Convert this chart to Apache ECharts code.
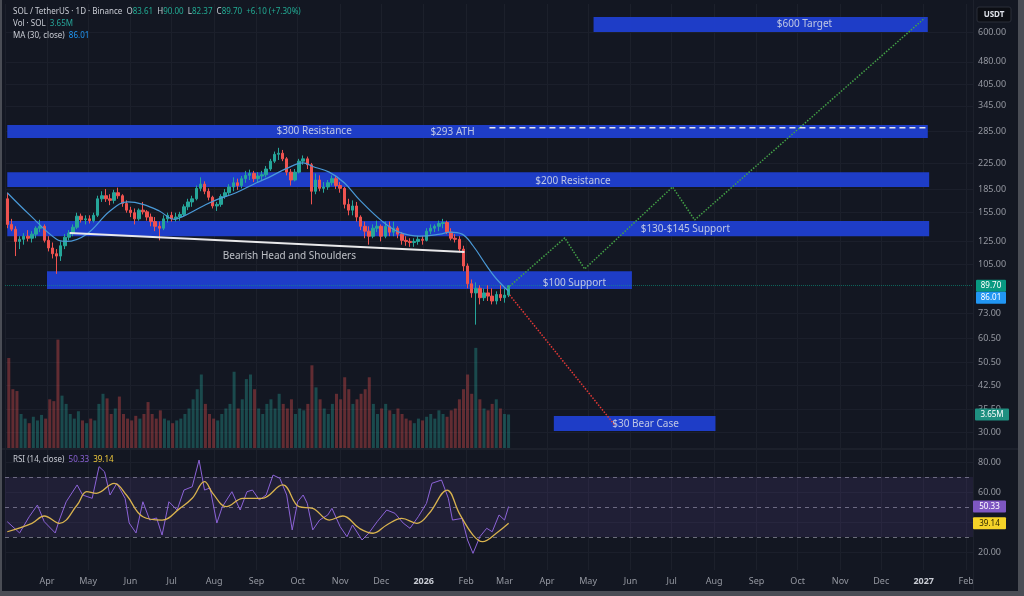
<!DOCTYPE html>
<html>
<head>
<meta charset="utf-8">
<script src="https://cdn.jsdelivr.net/npm/echarts@6/dist/echarts.min.js"></script>
<style>
html, body { margin: 0; padding: 0; background: #131722; }
#chart { width: 1024px; height: 596px; }
</style>
</head>
<body>
<div id="chart"></div>
<script>
const FONT = '"Noto Sans", Roboto, sans-serif'
const DAY = 86400000
const T0 = +new Date(2025, 2, 1)
const day = n => T0 + n * DAY

// 3-day candles from day 2 (Mar 3 2025); [open, high, low, close]
const candleStart = 2
const candleStep = 3
const ohlc = [
  [172, 180, 138, 142], [142, 148, 135, 137], [137, 140, 112, 125], [125, 130, 118, 127],
  [127, 133, 122, 130], [130, 136, 125, 128], [128, 135, 124, 132], [132, 140, 128, 138],
  [138, 147, 134, 140], [140, 142, 124, 126], [126, 130, 116, 119], [119, 124, 110, 114],
  [114, 118, 98, 112], [112, 125, 108, 121], [121, 132, 118, 129], [129, 136, 126, 133],
  [133, 142, 130, 139], [139, 155, 137, 151], [151, 154, 144, 147], [147, 152, 142, 148],
  [148, 152, 143, 146], [146, 155, 144, 152], [152, 176, 150, 172], [172, 182, 168, 176],
  [176, 185, 168, 172], [172, 178, 164, 170], [170, 184, 166, 180], [180, 187, 172, 176],
  [176, 178, 162, 166], [166, 170, 155, 158], [158, 162, 150, 155], [155, 160, 142, 148],
  [148, 160, 146, 158], [158, 168, 153, 156], [156, 158, 146, 150], [150, 154, 140, 145],
  [145, 150, 135, 140], [140, 145, 126, 138], [138, 152, 136, 148], [148, 155, 144, 152],
  [152, 156, 145, 148], [148, 155, 145, 150], [150, 156, 146, 153], [153, 165, 151, 162],
  [162, 172, 158, 168], [168, 176, 162, 172], [172, 190, 170, 186], [186, 202, 182, 192],
  [192, 196, 178, 182], [182, 186, 170, 174], [174, 176, 160, 163], [163, 168, 157, 165],
  [165, 178, 162, 175], [175, 185, 172, 180], [180, 192, 176, 188], [188, 202, 182, 194],
  [194, 200, 184, 190], [190, 204, 186, 200], [200, 212, 194, 205], [205, 214, 198, 208],
  [208, 212, 195, 200], [200, 210, 194, 204], [204, 212, 198, 206], [206, 220, 202, 215],
  [215, 232, 212, 228], [228, 245, 225, 240], [240, 252, 230, 242], [242, 248, 228, 232],
  [232, 235, 205, 210], [210, 215, 190, 198], [198, 215, 196, 210], [210, 232, 208, 228],
  [228, 238, 222, 232], [232, 236, 215, 222], [222, 225, 165, 182], [182, 208, 178, 198],
  [198, 205, 182, 186], [186, 195, 180, 188], [188, 198, 184, 194], [194, 205, 190, 200],
  [200, 204, 185, 190], [190, 195, 180, 186], [186, 188, 160, 165], [165, 172, 152, 158],
  [158, 170, 152, 163], [163, 168, 145, 150], [150, 152, 136, 140], [140, 145, 128, 135],
  [135, 140, 122, 130], [130, 142, 128, 138], [138, 146, 134, 140], [140, 142, 125, 130],
  [130, 145, 128, 140], [140, 145, 130, 134], [134, 145, 130, 138], [138, 140, 128, 132],
  [132, 134, 122, 126], [126, 130, 121, 125], [125, 128, 120, 124], [124, 128, 120, 125],
  [125, 130, 122, 127], [127, 130, 122, 126], [126, 138, 125, 135], [135, 142, 132, 138],
  [138, 142, 134, 140], [140, 146, 135, 143], [143, 148, 138, 144], [144, 146, 132, 134],
  [134, 138, 126, 128], [128, 132, 124, 127], [127, 130, 115, 118], [118, 121, 100, 104],
  [104, 106, 88, 91], [91, 94, 82, 85], [85, 92, 67, 88], [88, 90, 78, 82],
  [82, 88, 80, 85], [85, 90, 80, 83], [83, 88, 78, 80], [80, 86, 78, 84],
  [84, 90, 80, 82], [82, 88, 79, 83.61], [83.61, 90, 82.37, 89.70]
]

// volume per candle, millions
const volume = [
  9.8, 6.4, 6.2, 3.7, 3.2, 2.7, 3.4, 3.0, 3.6, 3.2, 5.3, 5.1, 11.8, 5.7, 4.8, 3.7,
  3.2, 4.0, 3.0, 2.7, 3.2, 3.0, 4.8, 5.9, 5.4, 3.7, 4.3, 5.6, 3.7, 3.2, 3.0, 3.5,
  3.2, 3.7, 5.0, 3.7, 3.2, 4.1, 3.2, 3.0, 2.7, 3.0, 3.2, 3.7, 4.3, 5.3, 6.4, 8.0,
  4.8, 3.7, 3.2, 3.0, 3.7, 4.3, 4.8, 8.3, 4.3, 5.3, 7.5, 8.0, 6.4, 4.3, 3.7, 4.8,
  5.3, 4.3, 5.9, 4.8, 4.3, 5.3, 3.7, 4.3, 4.1, 4.8, 9.0, 6.6, 5.3, 4.3, 3.7, 4.8,
  5.9, 5.3, 7.7, 6.4, 4.8, 5.3, 5.9, 6.4, 7.7, 4.8, 3.7, 4.3, 4.8, 4.1, 3.7, 4.3,
  3.7, 3.2, 3.0, 2.7, 3.2, 3.0, 3.4, 3.7, 3.2, 4.1, 3.7, 3.4, 4.1, 4.3, 5.3, 6.4,
  8.0, 5.9, 10.9, 5.3, 4.3, 4.1, 4.8, 5.3, 4.3, 3.7, 3.65
]

// MA(30), day offsets from Mar 1 2025
const maDays = [2, 18, 38, 45, 60, 77, 90, 101, 113, 124, 130, 145, 155, 169, 184, 193,
  206, 218, 225, 237, 248, 259, 276, 288, 303, 318, 325, 334, 342, 352, 359, 368]
const ma30 = [180, 153, 127, 125, 132, 157, 168, 165, 157, 147.5, 150.5, 163, 171, 180, 194, 202,
  216, 225, 219, 210, 194, 171, 145, 134, 130, 132, 134, 132, 121, 104, 94.5, 86.01]

const rsiDays = [2, 11, 18, 24, 29, 37, 40, 45, 53, 57, 64, 69, 73, 77, 82, 88, 91, 96, 101,
  106, 111, 115, 120, 126, 131, 137, 142, 146, 150, 155, 159, 166, 172, 177, 181, 186, 191,
  196, 201, 206, 210, 214, 218, 221, 225, 230, 236, 239, 245, 250, 254, 261, 266, 272, 279,
  285, 291, 296, 302, 308, 312, 319, 324, 327, 334, 338, 342, 347, 352, 356, 361, 365, 368]
const rsi = [40.2, 32.7, 43.5, 51.3, 40.2, 32.7, 41.3, 53.5, 64.7, 58, 55.8, 76.9, 73.5, 58,
  65.8, 55.8, 39.3, 32.7, 53.5, 41.3, 42.7, 31.3, 53.5, 48, 61.3, 63.5, 81.3, 61.3, 62.7, 39.3,
  50.2, 60.2, 48, 60.2, 61.3, 54.7, 58, 71.3, 69.1, 58, 34.7, 53.5, 58, 52.4, 34.7, 41.3, 44.7,
  49.1, 36.9, 30.2, 38, 28, 32.7, 40.2, 48, 45.8, 39.3, 35.8, 43.5, 52.4, 65.8, 68, 55.8, 41.3,
  42.4, 28, 19.1, 30.2, 35.8, 33.5, 44.7, 41.3, 50.33]

const rsiMaDays = [2, 20, 29, 40, 53, 60, 67, 80, 89, 101, 115, 128, 137, 146, 152, 162, 174,
  188, 203, 215, 225, 237, 247, 259, 269, 279, 290, 301, 310, 323, 332, 342, 349, 359, 368]
const rsiMa = [33.5, 39.1, 44, 39.1, 51.3, 60.2, 59.1, 65.8, 58, 43.5, 41.3, 49.1, 55.8, 66.9,
  59.1, 50.2, 55.8, 55.8, 64.7, 50.2, 49.1, 41.3, 44, 35.8, 32.5, 38, 42.4, 39.1, 45.8, 61.3,
  45.8, 31.3, 26.9, 32.5, 39.14]

const priceTicks = [30, 35.5, 42.5, 50.5, 60.5, 73, 105, 125, 155, 185, 225, 285, 345, 405, 480, 600]
const rsiTicks = [20, 40, 60, 80]
const rsiLevels = [30, 50, 70]

// [fromDay, toDay, low, high]
const zones = [
  [430, 674, 600, 671],
  [2, 674, 271, 299],
  [2, 675, 188, 210],
  [2, 675, 130, 145.6],
  [31, 458, 87.5, 100],
  [401, 519, 30.2, 33.8]
]
// [day, price, text]
const notes = [
  [584, 637, '$600 Target'],
  [226, 286, '$300 Resistance'],
  [327, 283, '$293 ATH'],
  [415, 196.6, '$200 Resistance'],
  [497, 137, '$130-$145 Support'],
  [416, 91.6, '$100 Support'],
  [468, 31.8, '$30 Bear Case'],
  [208, 112, 'Bearish Head and Shoulders']
]
const bullPath = [[367, 88], [409, 128.3], [423.5, 101.7], [487.7, 188], [503.8, 146.8], [671.7, 666]]
const bearPath = [[368.7, 83.7], [445.4, 31.6]]
const neckline = [[47.5, 133.1], [335.8, 115.5]]
const athLine = [[354, 293], [674, 293]]

const lastClose = 89.70
const lastMa = 86.01
const lastVol = 3.65
const lastRsi = 50.33
const lastRsiMa = 39.14

const UP = '#26a69a'
const DOWN = '#ef5350'
const xMin = day(0.34)
const xMax = day(707)

const candleData = ohlc.map((c, i) => [day(candleStart + i * candleStep), c[0], c[3], c[2], c[1]])
const volData = volume.map((v, i) => ({
  value: [day(candleStart + i * candleStep), v],
  itemStyle: { color: ohlc[i][3] >= ohlc[i][0] ? 'rgba(38,166,154,0.36)' : 'rgba(239,83,80,0.36)' }
}))
const pairs = (days, vals) => days.map((d, i) => [day(d), vals[i]])
const pts = arr => arr.map(p => [day(p[0]), p[1]])

const chart = echarts.init(document.getElementById('chart'))

const axisText = { color: '#9598a1', fontSize: 9, fontFamily: FONT }

chart.setOption({
  backgroundColor: '#131722',
  animation: false,
  textStyle: { fontFamily: FONT },
  grid: [
    { left: 5, right: 51, top: 4, height: 444 },
    { left: 5, right: 51, top: 301, height: 147 },
    { left: 5, right: 51, top: 450, height: 120 }
  ],
  xAxis: [0, 1, 2].map(i => ({
    type: 'time',
    gridIndex: i,
    min: xMin,
    max: xMax,
    splitNumber: 24,
    minInterval: 28 * DAY,
    maxInterval: 31 * DAY,
    axisLine: { show: false },
    axisTick: { show: false },
    splitLine: { show: i !== 1, lineStyle: { color: '#1c202b', width: 1 } },
    axisLabel: i === 2 ? {
      ...axisText,
      margin: 7,
      formatter: { year: '{yr|{yyyy}}', month: '{MMM}' },
      rich: { yr: { fontWeight: 'bold', color: '#c9ccd4', fontSize: 9 } }
    } : { show: false }
  })),
  yAxis: [
    { type: 'log', logBase: 10, gridIndex: 0, min: 26.6, max: 740, position: 'right',
      axisLine: { show: false }, axisTick: { show: false }, axisLabel: { show: false }, splitLine: { show: false } },
    { type: 'value', gridIndex: 1, min: 0, max: 16, show: false },
    { type: 'value', gridIndex: 2, min: 8, max: 88, position: 'right',
      axisLine: { show: false }, axisTick: { show: false }, axisLabel: { show: false }, splitLine: { show: false } }
  ],
  series: [
    {
      // price scale grid lines and labels
      type: 'line', xAxisIndex: 0, yAxisIndex: 0, z: 0, silent: true,
      data: pts(athLine), lineStyle: { opacity: 0 }, showSymbol: false,
      markLine: {
        z: 0, silent: true, symbol: ['none', 'none'],
        lineStyle: { color: '#1b1f2b', type: 'solid', width: 1 },
        label: { show: true, position: 'end', distance: 5, formatter: p => p.value.toFixed(2), ...axisText },
        data: priceTicks.map(v => ({ yAxis: v }))
      }
    },
    {
      type: 'line', xAxisIndex: 0, yAxisIndex: 0, z: 1, silent: true,
      data: pts(athLine), lineStyle: { opacity: 0 }, showSymbol: false,
      markArea: {
        z: 1, silent: true,
        itemStyle: { color: '#1f3fd1', opacity: 0.95 },
        data: zones.map(zn => [{ coord: [day(zn[0]), zn[2]] }, { coord: [day(zn[1]), zn[3]] }])
      }
    },
    {
      type: 'bar', xAxisIndex: 1, yAxisIndex: 1, z: 1, barWidth: 3, silent: true,
      data: volData
    },
    {
      type: 'candlestick', xAxisIndex: 0, yAxisIndex: 0, z: 2, barWidth: 3,
      data: candleData,
      itemStyle: { color: UP, color0: DOWN, borderColor: UP, borderColor0: DOWN, borderWidth: 1 },
      markLine: {
        z: 2, silent: true, symbol: ['none', 'none'], label: { show: false },
        lineStyle: { color: '#089981', type: 'dotted', width: 1, opacity: 0.6 },
        data: [{ yAxis: lastClose }]
      }
    },
    {
      type: 'line', xAxisIndex: 0, yAxisIndex: 0, z: 3, smooth: 0.4, showSymbol: false,
      data: pairs(maDays, ma30), lineStyle: { color: '#4a9ad8', width: 1.2 }
    },
    {
      type: 'line', xAxisIndex: 0, yAxisIndex: 0, z: 4, showSymbol: false,
      data: pts(bullPath), lineStyle: { color: '#43a047', width: 1.5, type: 'dotted' }
    },
    {
      type: 'line', xAxisIndex: 0, yAxisIndex: 0, z: 4, showSymbol: false,
      data: pts(bearPath), lineStyle: { color: '#e53935', width: 1.5, type: 'dotted' }
    },
    {
      type: 'line', xAxisIndex: 0, yAxisIndex: 0, z: 4, showSymbol: false,
      data: pts(neckline), lineStyle: { color: '#e8e8ea', width: 2 }
    },
    {
      type: 'line', xAxisIndex: 0, yAxisIndex: 0, z: 4, showSymbol: false,
      data: pts(athLine), lineStyle: { color: '#e8e8ea', width: 1.5, type: [6, 4] }
    },
    {
      type: 'scatter', xAxisIndex: 0, yAxisIndex: 0, z: 5, silent: true,
      symbolSize: 1, itemStyle: { color: 'rgba(0,0,0,0)' },
      data: notes.map(n => ({ value: [day(n[0]), n[1]], name: n[2] })),
      label: { show: true, position: 'inside', formatter: '{b}', color: '#e4e6eb', fontSize: 10, fontFamily: FONT }
    },
    {
      type: 'line', xAxisIndex: 2, yAxisIndex: 2, z: 3, showSymbol: false,
      data: pairs(rsiDays, rsi), lineStyle: { color: '#8c63d8', width: 1 },
      markArea: {
        z: 1, silent: true,
        itemStyle: { color: 'rgba(126,87,194,0.13)' },
        data: [[{ yAxis: 30 }, { yAxis: 70 }]]
      },
      markLine: {
        z: 0, silent: true, symbol: ['none', 'none'],
        data: rsiTicks.map(v => ({
          yAxis: v,
          lineStyle: { color: '#1b1f2b', type: 'solid', width: 1 },
          label: { show: true, position: 'end', distance: 5, formatter: p => p.value.toFixed(2), ...axisText }
        })).concat(rsiLevels.map(v => ({
          yAxis: v,
          lineStyle: { color: '#6b6e7a', type: [4, 4], width: 1 },
          label: { show: false }
        })))
      }
    },
    {
      type: 'line', xAxisIndex: 2, yAxisIndex: 2, z: 4, smooth: 0.4, showSymbol: false,
      data: pairs(rsiMaDays, rsiMa), lineStyle: { color: '#d9b34e', width: 1.3 }
    }
  ]
})

// right-scale value tags, legend texts and frame
const yPx = (axis, v) => chart.convertToPixel({ yAxisIndex: axis }, v)
function tag(x, y, w, text, bg, fg) {
  return {
    type: 'group', x: x, y: y - 6, z: 100, zlevel: 1, children: [
      { type: 'rect', z: 100, shape: { x: 0, y: 0, width: w, height: 12, r: 1 }, style: { fill: bg } },
      { type: 'text', z: 101, style: { x: w / 2, y: 6, text: text, fill: fg, font: '8px ' + FONT, align: 'center', verticalAlign: 'middle' } }
    ]
  }
}
const yClose = yPx(0, lastClose)
const leg = {
  t: { fill: '#c9ccd4', font: '8px ' + FONT },
  g: { fill: '#22ab94', font: '8px ' + FONT },
  v: { fill: '#26a69a', font: '8px ' + FONT },
  b: { fill: '#2196f3', font: '8px ' + FONT },
  p: { fill: '#8c63d8', font: '8px ' + FONT },
  y: { fill: '#f2cc3d', font: '8px ' + FONT }
}
const legendText = (y, text) => ({
  type: 'text', z: 100, style: { x: 13, y: y, text: text, rich: leg, verticalAlign: 'middle', font: '8px ' + FONT, fill: '#c9ccd4' }
})

chart.setOption({
  graphic: [
    { type: 'line', z: 50, shape: { x1: 973.5, y1: 0, x2: 973.5, y2: 590 }, style: { stroke: '#1d212c', lineWidth: 1 } },
    { type: 'line', z: 50, shape: { x1: 0, y1: 449, x2: 1024, y2: 449 }, style: { stroke: '#262a35', lineWidth: 1 } },
    legendText(12, '{t|SOL / TetherUS · 1D · Binance}  {t|O}{g|83.61}  {t|H}{g|90.00}  {t|L}{g|82.37}  {t|C}{g|89.70}  {g|+6.10 (+7.30%)}'),
    legendText(24, '{t|Vol · SOL}  {v|3.65M}'),
    legendText(36, '{t|MA (30, close)}  {b|86.01}'),
    legendText(460, '{t|RSI (14, close)}  {p|50.33}  {y|39.14}'),
    {
      type: 'group', x: 977, y: 7, z: 100, children: [
        { type: 'rect', shape: { x: 0, y: 0, width: 34, height: 15, r: 2 }, style: { fill: '#0c0e14', stroke: '#2a2e39', lineWidth: 1 } },
        { type: 'text', style: { x: 17, y: 7.5, text: 'USDT', fill: '#e0e3eb', font: 'bold 8px ' + FONT, align: 'center', verticalAlign: 'middle' } }
      ]
    },
    tag(976, yClose, 30, lastClose.toFixed(2), '#089981', '#ffffff'),
    tag(976, yClose + 12, 30, lastMa.toFixed(2), '#2196f3', '#ffffff'),
    tag(975, yPx(1, lastVol), 34, lastVol.toFixed(2) + 'M', '#1f8f80', '#ffffff'),
    tag(973, yPx(2, lastRsi), 33, lastRsi.toFixed(2), '#7e57c2', '#ffffff'),
    tag(973, yPx(2, lastRsiMa), 33, lastRsiMa.toFixed(2), '#f5d328', '#2a2300'),
    { type: 'rect', z: 120, shape: { x: 0, y: 0, width: 2, height: 596 }, style: { fill: '#4a4d55' } },
    { type: 'rect', z: 120, shape: { x: 1018, y: 0, width: 6, height: 596 }, style: { fill: '#4a4d55' } },
    { type: 'rect', z: 120, shape: { x: 0, y: 591, width: 1024, height: 5 }, style: { fill: '#4a4d55' } }
  ]
})
</script>
</body>
</html>
